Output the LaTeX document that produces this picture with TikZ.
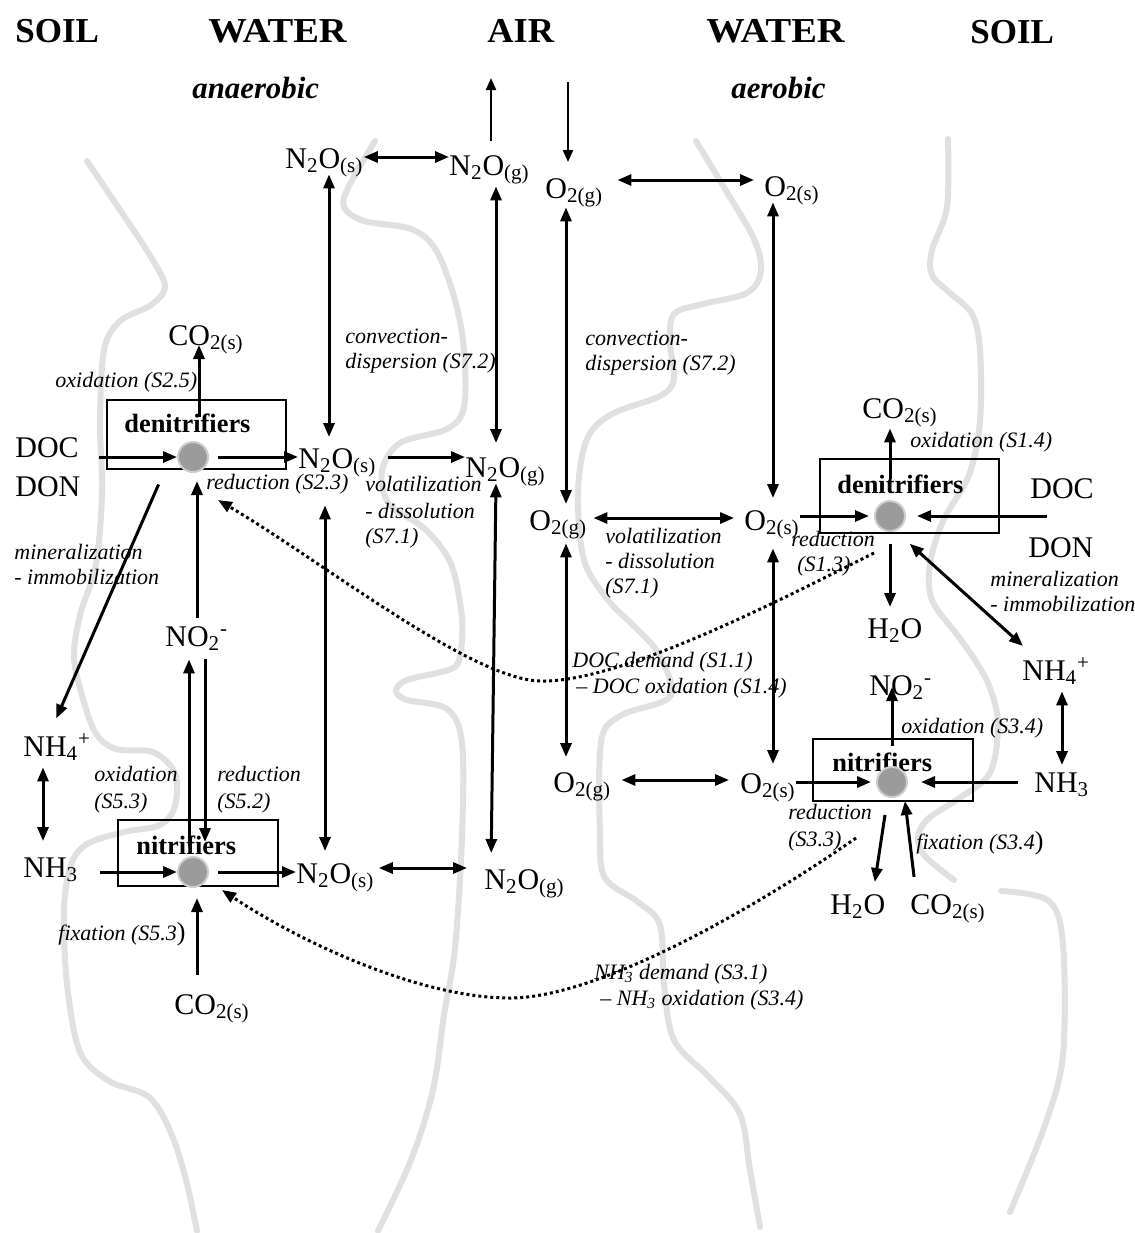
\documentclass[tikz,border=0pt]{standalone}
\usepackage{fontspec}
\setmainfont{Liberation Serif}
\usetikzlibrary{arrows.meta}
\definecolor{soilgray}{RGB}{224,224,224}
\definecolor{cellgray}{RGB}{155,155,155}
\definecolor{cellring}{RGB}{205,205,205}
\newcommand{\chs}[1]{\textsubscript{#1}}
\newcommand{\chp}[1]{\textsuperscript{#1}}
\begin{document}
\begin{tikzpicture}[x=0.5pt,y=-0.5pt,
  ttl/.style={anchor=base west,inner sep=0pt,font=\fontsize{17.5}{20}\selectfont\bfseries},
  zone/.style={anchor=base west,inner sep=0pt,font=\fontsize{15.4}{18}\selectfont\bfseries\itshape},
  chem/.style={anchor=base west,inner sep=0pt,text height=10.3pt,text depth=3pt,font=\fontsize{15}{18}\selectfont},
  lab/.style={anchor=base west,inner sep=0pt,font=\fontsize{11}{12.5}\selectfont\itshape},
  boxlab/.style={anchor=base west,inner sep=0pt,font=\fontsize{13.2}{15}\selectfont\bfseries},
  mbox/.style={draw,line width=0.75pt,inner sep=0pt,rectangle},
  cell/.style={circle,fill=cellgray,draw=cellring,line width=1pt,minimum size=15pt,inner sep=0pt},
  soil/.style={draw=soilgray,line width=3pt,line cap=round},
  arr/.style={line width=1.5pt,-{Triangle[length=7pt,width=5.5pt]}},
  dbl/.style={line width=1.5pt,{Triangle[length=7pt,width=5.5pt]}-{Triangle[length=7pt,width=5.5pt]}},
  arrthin/.style={line width=1pt,-{Triangle[length=6pt,width=5pt]}},
  dotarrow/.style={line width=1.5pt,dash pattern=on 1.5pt off 1.5pt,-{Triangle[length=7pt,width=5.5pt]}},
]
\fill[white] (0,0) rectangle (1135,1233);
\useasboundingbox (0,0) rectangle (1135,1233);

% ---------- soil / water boundaries ----------
\draw[soil] plot[smooth,tension=0.55] coordinates {(87,161) (118,207) (149,254) (165,286) (151,305) (120,321) (104,350) (100,421) (102,493) (96,564) (80,615) (74,655) (80,688) (95,732) (116,749) (153,752) (175,773) (175,806) (160,825) (124,832) (87,844) (71,865) (64,910) (67,984) (80,1052) (109,1081) (149,1097) (171,1133) (186,1180) (197,1231)};
\draw[soil] plot[smooth,tension=0.55] coordinates {(375,141) (349,186) (344,207) (364,221) (411,229) (436,250) (455,300) (464,350) (464,407) (447,429) (400,443) (382,471) (389,504) (425,529) (451,564) (462,618) (460,655) (451,669) (407,680) (396,691) (407,700) (447,709) (462,743) (462,836) (455,948) (444,1015) (433,1090) (411,1160) (378,1231)};
\draw[soil] plot[smooth,tension=0.55] coordinates {(696,141) (725,189) (754,239) (761,271) (747,293) (703,304) (674,314) (670,343) (674,379) (660,396) (612,414) (587,439) (578,493) (584,560) (608,600) (635,627) (656,650) (672,686) (664,701) (620,716) (601,742) (600,836) (605,878) (638,902) (660,925) (664,984) (674,1040) (710,1078) (740,1114) (750,1170) (760,1227)};
\draw[soil] plot[smooth,tension=0.55] coordinates {(948,139) (947,207) (932,250) (932,275) (950,293) (972,314) (980,350) (980,421) (969,475) (943,521) (930,564) (932,600) (958,636) (975,660) (990,688) (998,724) (990,773) (958,799) (929,818) (918,836) (925,856) (954,880)};
\draw[soil] plot[smooth,tension=0.55] coordinates {(1001,891) (1049,901) (1063,945) (1063,1055) (1045,1125) (1010,1212)};

% ---------- titles ----------
\node[ttl] (tSoilL) at (15,42) {SOIL};
\node[ttl] (tWaterL) at (208,42) {\scalebox{1.1}[1]{WATER}};
\node[ttl] (tAir) at (487,42) {\scalebox{1.04}[1]{AIR}};
\node[ttl] (tWaterR) at (706,42) {\scalebox{1.1}[1]{WATER}};
\node[ttl] (tSoilR) at (970,43) {SOIL};
\node[zone] (zAnaer) at (192,98) {anaerobic};
\node[zone] (zAer) at (731,98) {aerobic};

% ---------- boxes and cells ----------
\node[mbox,minimum width=89.5pt,minimum height=34.5pt] (boxL1) at (196.5,434.5) {};
\node[mbox,minimum width=89.5pt,minimum height=37pt] (boxR1) at (909.5,496) {};
\node[mbox,minimum width=80pt,minimum height=33pt] (boxL2) at (198,853) {};
\node[mbox,minimum width=80pt,minimum height=31pt] (boxR2) at (893,770) {};
\node[boxlab] (denL) at (124,432) {denitrifiers};
\node[boxlab] (denR) at (837,493) {denitrifiers};
\node[boxlab] (nitL) at (136,854) {nitrifiers};
\node[boxlab] (nitR) at (832,771) {nitrifiers};
\node[cell] (cL1) at (193,457) {};
\node[cell] (cR1) at (890,516) {};
\node[cell] (cL2) at (193,872) {};
\node[cell] (cR2) at (892,782) {};

% ---------- chemical species ----------
\node[chem] (n2osT) at (285,168) {N\chs{2}O\chs{(s)}};
\node[chem] (n2ogT) at (449,175) {N\chs{2}O\chs{(g)}};
\node[chem] (o2gT) at (545,198) {O\chs{2(g)}};
\node[chem] (o2sT) at (764,196) {O\chs{2(s)}};
\node[chem] (co2L) at (168,345) {CO\chs{2(s)}};
\node[chem] (docL) at (15,457) {DOC};
\node[chem] (donL) at (15,496) {DON};
\node[chem] (n2osM) at (298,468) {N\chs{2}O\chs{(s)}};
\node[chem] (n2ogM) at (465,477) {N\chs{2}O\chs{(g)}};
\node[chem] (o2gM) at (529,530) {O\chs{2(g)}};
\node[chem] (o2sM) at (744,530) {O\chs{2(s)}};
\node[chem] (no2L) at (165,646) {NO\chs{2}\chp{-}};
\node[chem] (nh4L) at (23,756) {NH\chs{4}\chp{+}};
\node[chem] (nh3L) at (23,877) {NH\chs{3}};
\node[chem] (n2osB) at (296,883) {N\chs{2}O\chs{(s)}};
\node[chem] (n2ogB) at (484,889) {N\chs{2}O\chs{(g)}};
\node[chem] (co2B) at (174,1014) {CO\chs{2(s)}};
\node[chem] (co2R) at (862,418) {CO\chs{2(s)}};
\node[chem] (docR) at (1030,498) {DOC};
\node[chem] (donR) at (1028,557) {DON};
\node[chem] (h2oR) at (867,638) {H\chs{2}O};
\node[chem] (nh4R) at (1022,680) {NH\chs{4}\chp{+}};
\node[chem] (no2R) at (869,695) {NO\chs{2}\chp{-}};
\node[chem] (o2gL) at (553,792) {O\chs{2(g)}};
\node[chem] (o2sL) at (740,793) {O\chs{2(s)}};
\node[chem] (nh3R) at (1034,792) {NH\chs{3}};
\node[chem] (h2oRL) at (830,914) {H\chs{2}O};
\node[chem] (co2RL) at (910,914) {CO\chs{2(s)}};

% ---------- process labels ----------
\node[lab] (oxS25) at (55,387) {oxidation (S2.5)};
\node[lab] (redS23) at (206,489) {reduction (S2.3)};
\node[lab] (convL1) at (345,343) {convection-};
\node[lab] (convL2) at (345,368) {dispersion (S7.2)};
\node[lab] (volL1) at (365,491) {volatilization};
\node[lab] (volL2) at (365,518) {- dissolution};
\node[lab] (volL3) at (365,543) {(S7.1)};
\node[lab] (minL1) at (14,559) {mineralization};
\node[lab] (minL2) at (14,584) {- immobilization};
\node[lab] (oxS53a) at (94,781) {oxidation};
\node[lab] (oxS53b) at (94,808) {(S5.3)};
\node[lab] (redS52a) at (217,781) {reduction};
\node[lab] (redS52b) at (217,808) {(S5.2)};
\node[lab] (fixL) at (58,940) {fixation (S5.3\upshape\fontsize{13}{13}\selectfont)};
\node[lab] (convR1) at (585,345) {convection-};
\node[lab] (convR2) at (585,370) {dispersion (S7.2)};
\node[lab] (oxS14) at (910,447) {oxidation (S1.4)};
\node[lab] (volR1) at (605,543) {volatilization};
\node[lab] (volR2) at (605,568) {- dissolution};
\node[lab] (volR3) at (605,593) {(S7.1)};
\node[lab] (redS13a) at (791,546) {reduction};
\node[lab] (redS13b) at (797,571) {(S1.3)};
\node[lab] (minR1) at (990,586) {mineralization};
\node[lab] (minR2) at (990,611) {- immobilization};
\node[lab] (demDOC1) at (572,667) {DOC demand (S1.1)};
\node[lab] (demDOC2) at (576,693) {– DOC oxidation (S1.4)};
\node[lab] (oxS34) at (901,733) {oxidation (S3.4)};
\node[lab] (redS33a) at (788,819) {reduction};
\node[lab] (redS33b) at (788,846) {(S3.3)};
\node[lab] (fixR) at (916,849) {fixation (S3.4\upshape\fontsize{13}{13}\selectfont)};
\node[lab] (demNH1) at (594,979) {NH\chs{3} demand (S3.1)};
\node[lab] (demNH2) at (600,1005) {– NH\chs{3} oxidation (S3.4)};

% ---------- air exchange ----------
\coordinate (n2oUp) at (491,78);
\coordinate (o2Down) at (568,82);
\draw[arrthin,shorten <=6.5pt] (n2ogT.north -| 491,0) -- (n2oUp);
\draw[arrthin,shorten >=7.5pt] (o2Down) -- (o2gT.north -| 568,0);

% ---------- transport arrows ----------
\draw[dbl] (n2osT.east |- 0,157) -- (n2ogT.west |- 0,157);
\draw[dbl,shorten <=7pt,shorten >=5pt] (o2gT.east |- 0,180) -- (o2sT.west |- 0,180);
\draw[dbl,shorten >=5pt] (n2osT.south -| 329,0) -- (n2osM.north -| 329,0);
\draw[dbl,shorten <=2.5pt,shorten >=6.5pt] (n2ogT.south -| 496,0) -- (n2ogM.north -| 496,0);
\draw[dbl,shorten <=1.5pt,shorten >=2.5pt] (o2gT.south -| 566,0) -- (o2gM.north -| 566,0);
\draw[dbl,shorten >=5.5pt] (o2sT.south -| 773,0) -- (o2sM.north -| 773,0);
\draw[arr,shorten <=5.5pt] (n2osM.east |- 0,457) -- (n2ogM.west |- 0,457);
\draw[dbl,shorten <=3pt,shorten >=5pt] (o2gM.east |- 0,518) -- (o2sM.west |- 0,518);
\draw[dbl,shorten <=15.5pt,shorten >=5.5pt] (n2osM.south -| 325,0) -- (n2osB.north -| 325,0);
\draw[dbl,shorten >=7.5pt] (n2ogM.south -| 496,0) -- (n2ogB.north -| 491,0);
\draw[dbl,shorten <=3.5pt,shorten >=7pt] (o2gM.south -| 566,0) -- (o2gL.north -| 566,0);
\draw[dbl,shorten <=6pt,shorten >=4pt] (o2sM.south -| 773,0) -- (o2sL.north -| 773,0);
\draw[dbl,shorten <=5pt,shorten >=5.5pt] (o2gL.east |- 0,780) -- (o2sL.west |- 0,780);
\draw[dbl,shorten <=2pt,shorten >=8.5pt] (n2osB.east |- 0,868) -- (n2ogB.west |- 0,868);

% ---------- left denitrifiers ----------
\draw[arr,shorten <=10pt] (docL.east |- cL1.west) -- (cL1.west);
\draw[arr,shorten <=4.5pt] (cL1.east) -- (n2osM.west |- cL1.east);
\draw[arr,shorten <=12pt] (cL1.north -| 199,0) -- (co2L.base -| 199,0);
\draw[arr,shorten <=3.5pt,shorten >=4pt] (no2L.north -| 197,0) -- (cL1.south -| 197,0);
\draw[arr,shorten <=8pt,shorten >=9pt] (boxL1.south -| 165,0) -- (nh4L.north -| 49,0);

% ---------- right denitrifiers ----------
\draw[arr,shorten >=2.5pt] (o2sM.east |- cR1.west) -- (cR1.west);
\draw[arr,shorten <=-8.5pt,shorten >=5.5pt] (docR.west |- cR1.east) -- (cR1.east);
\draw[arr,shorten <=10.5pt,shorten >=2pt] (cR1.north) -- (co2R.south -| 890,0);
\draw[arr,shorten <=6pt,shorten >=5pt] (cR1.south) -- (h2oR.north -| 890,0);
\draw[dbl] ([shift={(4.2pt,-8.2pt)}]cR1.south east) -- ([shift={(0.5pt,6.5pt)}]nh4R.north west);

% ---------- left nitrifiers ----------
\draw[dbl,shorten <=2.5pt,shorten >=7.5pt] (nh4L.south -| 43,0) -- (nh3L.north -| 43,0);
\draw[arr,shorten <=10.5pt] (nh3L.east |- cL2.west) -- (cL2.west);
\draw[arr,shorten <=4.5pt] (cL2.east) -- (n2osB.west |- cL2.east);
\draw[arr,shorten <=9pt,shorten >=5pt] (co2B.north -| 197,0) -- (cL2.south -| 197,0);
\draw[arr,shorten <=5pt,shorten >=3.5pt] (cL2.north -| 189,0) -- (no2L.south -| 189,0);
\draw[arr,shorten <=3.5pt,shorten >=7pt] (no2L.south -| 205,0) -- (cL2.north -| 205,0);

% ---------- right nitrifiers ----------
\draw[arr,shorten >=2.5pt] (o2sL.east |- cR2.west) -- (cR2.west);
\draw[arr,shorten <=8pt,shorten >=6.5pt] (nh3R.west |- cR2.east) -- (cR2.east);
\draw[arr,shorten <=10pt,shorten >=-4pt] (cR2.north) -- (no2R.base -| 892,0);
\draw[dbl,shorten <=2.5pt,shorten >=3pt] (nh4R.south -| 1062,0) -- (nh3R.north -| 1062,0);
\draw[arr] ([shift={(-3.5pt,-8.5pt)}]cR2.south) -- ([shift={(8.5pt,5.5pt)}]h2oRL.north);
\draw[arr] ([shift={(-17pt,8pt)}]co2RL.north) -- ([shift={(6.5pt,-9.5pt)}]cR2.center);

% ---------- demand links ----------
\draw[dotarrow] ([shift={(-8pt,-18.5pt)}]cR1.center) .. controls (780,600) and (620,683) .. (540,681) .. controls (470,679) and (320,560) .. ([shift={(12.5pt,-21.5pt)}]cL1.center);
\draw[dotarrow] ([shift={(-18pt,-28pt)}]cR2.center) .. controls (760,905) and (600,998) .. (510,998) .. controls (420,998) and (300,942) .. ([shift={(14.5pt,-9pt)}]cL2.center);
\end{tikzpicture}
\end{document}
